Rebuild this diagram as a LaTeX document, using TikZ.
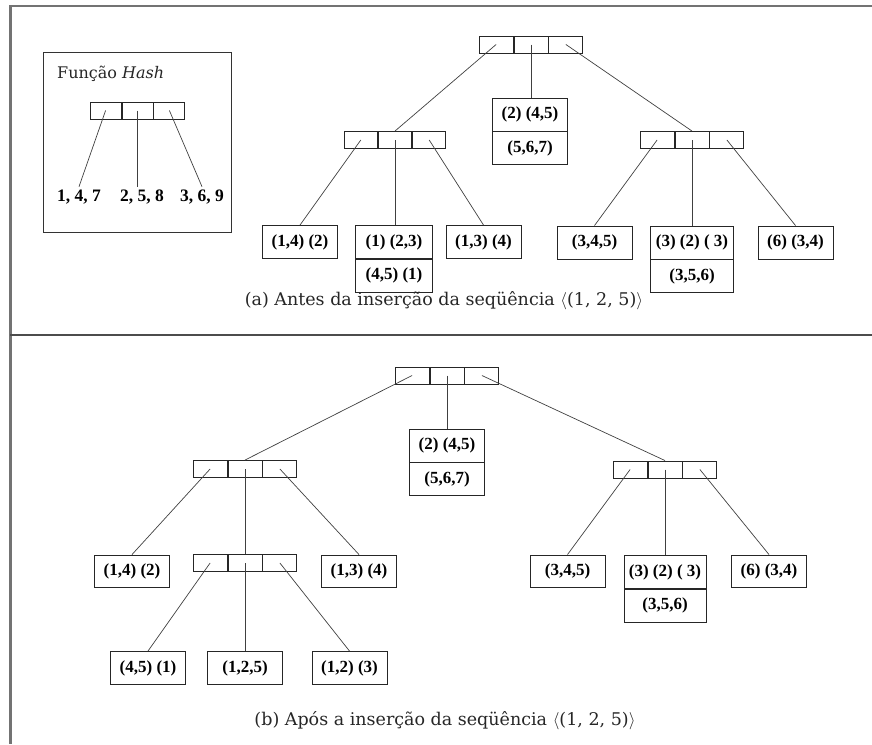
\documentclass[tikz,border=0pt]{standalone}
\usepackage{fontspec}
\setmainfont{Liberation Serif}
\newfontfamily\capfont{DejaVu Serif}
\usetikzlibrary{calc}

\tikzset{
  cell/.style={draw=black!85, line width=0.9pt, minimum height=17pt, inner sep=0pt},
  leaf/.style={draw=black!85, line width=0.9pt, minimum width=75pt, minimum height=33pt,
               inner sep=0pt, font=\fontsize{17}{19}\selectfont\bfseries},
  link/.style={draw=black!75, line width=0.7pt},
  frame/.style={draw=black!55},
  caption/.style={font=\capfont\fontsize{17.5}{20}\selectfont, text=black!85},
  hashlabel/.style={font=\fontsize{17.5}{19}\selectfont\bfseries, inner sep=3pt}
}

% three-cell bucket array: name, centre x, centre y, cell width
\newcommand\bucketrow[4]{%
  \node[cell, minimum width=#4pt] (#1-2) at (#2,#3) {};
  \node[cell, minimum width=#4pt, anchor=east] (#1-1) at (#1-2.west) {};
  \node[cell, minimum width=#4pt, anchor=west] (#1-3) at (#1-2.east) {};}

% leaf split in two stacked compartments: name, x, y of upper part, upper text, lower text, width
\newcommand\twoleaf[6]{%
  \node[leaf, minimum width=#6pt] (#1) at (#2,#3) {#4};
  \node[leaf, minimum width=#6pt, anchor=north] (#1-b) at (#1.south) {#5};}

\begin{document}
\begin{tikzpicture}[x=1pt, y=-1pt]
\useasboundingbox (0,0) rectangle (872,744);

% page frame and separator
\draw[frame, line width=3pt] (10,5) -- (10,744);
\draw[frame, line width=2pt] (9,6) -- (872,6);
\draw[frame, line width=1.2pt, draw=black!70] (10,335) -- (872,335);

% ---------- hash function legend ----------
\node[draw=black!80, line width=1pt, minimum width=188pt, minimum height=180pt, inner sep=0pt]
  (hashbox) at (137,142) {};
\node[font=\capfont\fontsize{16}{18}\selectfont, anchor=west, text=black!85, inner sep=0pt]
  (hashtitle) at (57,74) {Função \textit{Hash}};
\bucketrow{H}{137.5}{110.5}{31}
\node[hashlabel] (h1) at (79,197) {1, 4, 7};
\node[hashlabel] (h2) at (142,197) {2, 5, 8};
\node[hashlabel] (h3) at (202,197) {3, 6, 9};
\draw[link] (H-1.center) -- (h1.north);
\draw[link] (H-2.center) -- (H-2.center |- h2.north);
\draw[link] (H-3.center) -- (h3.north);

% ---------- (a) tree before the insertion ----------
\bucketrow{A}{531}{44.5}{34}
\twoleaf{Am}{530}{114.5}{(2) (4,5)}{(5,6,7)}{75}
\bucketrow{AL}{395}{140}{33.3}
\bucketrow{AR}{692}{140}{34}
\draw[link] (A-1.center) -- (AL-2.north);
\draw[link] (A-2.center) -- (A-2.center |- Am.north);
\draw[link] (A-3.center) -- (AR-2.north);

\node[leaf] (La1) at (300,242) {(1,4) (2)};
\twoleaf{La2}{394}{242}{(1) (2,3)}{(4,5) (1)}{77}
\node[leaf] (La3) at (483.5,242) {(1,3) (4)};
\draw[link] (AL-1.center) -- (La1.north);
\draw[link] (AL-2.center) -- (AL-2.center |- La2.north);
\draw[link] (AL-3.center) -- (La3.north);

\node[leaf] (Ra1) at (594.5,242.5) {(3,4,5)};
\twoleaf{Ra2}{692}{242.5}{(3) (2) ( 3)}{(3,5,6)}{83}
\node[leaf] (Ra3) at (795.5,242.5) {(6) (3,4)};
\draw[link] (AR-1.center) -- (Ra1.north);
\draw[link] (AR-2.center) -- (AR-2.center |- Ra2.north);
\draw[link] (AR-3.center) -- (Ra3.north);

\node[caption] (capA) at (444,301)
  {(a) Antes da inserção da seqüência $\langle$(1, 2, 5)$\rangle$};

% ---------- (b) tree after the insertion ----------
\bucketrow{B}{447}{375.5}{34}
\twoleaf{Bm}{447}{445.5}{(2) (4,5)}{(5,6,7)}{75}
\bucketrow{BL}{245}{469}{34}
\bucketrow{BR}{665}{469.5}{34}
\draw[link] (B-1.center) -- (BL-2.north);
\draw[link] (B-2.center) -- (B-2.center |- Bm.north);
\draw[link] (B-3.center) -- (BR-2.north);

\node[leaf, minimum height=32pt] (Lb1) at (132,571) {(1,4) (2)};
\bucketrow{BS}{245}{563}{34}
\node[leaf, minimum height=32pt] (Lb3) at (359,571) {(1,3) (4)};
\draw[link] (BL-1.center) -- (Lb1.north);
\draw[link] (BL-2.center) -- (BS-2.north);
\draw[link] (BL-3.center) -- (Lb3.north);

\node[leaf] (Sb1) at (148,668) {(4,5) (1)};
\node[leaf] (Sb2) at (245,668) {(1,2,5)};
\node[leaf] (Sb3) at (349.5,668) {(1,2) (3)};
\draw[link] (BS-1.center) -- (Sb1.north);
\draw[link] (BS-2.center) -- (BS-2.center |- Sb2.north);
\draw[link] (BS-3.center) -- (Sb3.north);

\node[leaf, minimum height=32pt] (Rb1) at (567.5,571) {(3,4,5)};
\twoleaf{Rb2}{665}{572}{(3) (2) ( 3)}{(3,5,6)}{82}
\node[leaf, minimum height=32pt] (Rb3) at (769,571) {(6) (3,4)};
\draw[link] (BR-1.center) -- (Rb1.north);
\draw[link] (BR-2.center) -- (BR-2.center |- Rb2.north);
\draw[link] (BR-3.center) -- (Rb3.north);

\node[caption] (capB) at (445,721)
  {(b) Após a inserção da seqüência $\langle$(1, 2, 5)$\rangle$};
\end{tikzpicture}
\end{document}
